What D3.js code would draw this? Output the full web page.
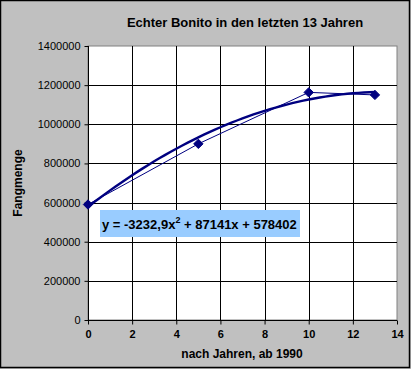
<!DOCTYPE html>
<html>
<head>
<meta charset="utf-8">
<script src="https://cdn.jsdelivr.net/npm/d3@7"></script>
<style>
  body { margin: 0; background: #c0c0c0; }
  .axis text { font-family: Arial, "Liberation Sans", sans-serif; fill: #000; }
  .axis path, .axis line { stroke: #000; }
</style>
</head>
<body>
<div id="chart"></div>
<script>
var years = [0, 5, 10, 13];
var catches = [590000, 900000, 1163000, 1150000];
var xTicks = [0, 2, 4, 6, 8, 10, 12, 14];
var yTicks = [0, 200000, 400000, 600000, 800000, 1000000, 1200000, 1400000];
var trendCoef = [578402, 87141, -3232.9]; // c + b*x + a*x^2

function init() {
    var width = 411;
    var height = 369;
    var left = 88, right = 397, top = 46, bottom = 320;

    var svg = d3.select("#chart")
                .append("svg")
                .attr("width", width)
                .attr("height", height);

    svg.append("rect")
       .attr("x", 0.5).attr("y", 0.5)
       .attr("width", width - 2).attr("height", height - 2)
       .attr("fill", "#c0c0c0")
       .attr("stroke", "#000")
       .attr("stroke-width", 1.5);

    var xScale = d3.scaleLinear().domain([0, 14]).range([left, right]);
    var yScale = d3.scaleLinear().domain([0, 1400000]).range([bottom, top]);

    svg.append("rect")
       .attr("x", left).attr("y", top)
       .attr("width", right - left).attr("height", bottom - top)
       .attr("fill", "#fff")
       .attr("stroke", "#808080");

    // grid
    svg.selectAll("line.vgrid")
       .data(xTicks.slice(1, -1))
       .enter().append("line")
       .attr("class", "vgrid")
       .attr("x1", function(d) { return Math.round(xScale(d)) + 0.5; })
       .attr("x2", function(d) { return Math.round(xScale(d)) + 0.5; })
       .attr("y1", top).attr("y2", bottom)
       .attr("stroke", "#000");
    svg.selectAll("line.hgrid")
       .data(yTicks.slice(1, -1))
       .enter().append("line")
       .attr("class", "hgrid")
       .attr("y1", function(d) { return Math.round(yScale(d)) + 0.5; })
       .attr("y2", function(d) { return Math.round(yScale(d)) + 0.5; })
       .attr("x1", left).attr("x2", right)
       .attr("stroke", "#000");

    var xAxis = d3.axisBottom(xScale).tickValues(xTicks).tickSize(4).tickFormat(d3.format("d"));
    var yAxis = d3.axisLeft(yScale).tickValues(yTicks).tickSize(4).tickFormat(d3.format("d"));

    var gx = svg.append("g")
       .attr("class", "axis")
       .attr("transform", "translate(0," + (bottom + 0.5) + ")")
       .call(xAxis);
    gx.select(".domain").attr("d", "M" + left + ",0H" + right);
    gx.selectAll("text").attr("font-size", "11px").attr("font-weight", "bold").attr("dy", "0.95em");

    var gy = svg.append("g")
       .attr("class", "axis")
       .attr("transform", "translate(" + (left + 0.5) + ",0)")
       .call(yAxis);
    gy.select(".domain").attr("d", "M0," + top + "V" + bottom);
    gy.selectAll("text").attr("font-size", "11px").attr("x", -8);

    // data line
    var line = d3.line()
        .x(function(d, i) { return xScale(years[i]); })
        .y(function(d) { return yScale(d); });
    svg.append("path")
       .datum(catches)
       .attr("d", line)
       .attr("fill", "none")
       .attr("stroke", "#000080")
       .attr("stroke-width", 1);

    // polynomial trend line
    var trendX = d3.range(0, 13.01, 0.25);
    var trend = d3.line()
        .x(function(d) { return xScale(d); })
        .y(function(d) { return yScale(trendCoef[0] + trendCoef[1] * d + trendCoef[2] * d * d); });
    svg.append("path")
       .datum(trendX)
       .attr("d", trend)
       .attr("fill", "none")
       .attr("stroke", "#000080")
       .attr("stroke-width", 2.4);

    svg.selectAll("path.pt")
       .data(catches)
       .enter().append("path")
       .attr("class", "pt")
       .attr("d", d3.symbol().type(d3.symbolDiamond2).size(56))
       .attr("transform", function(d, i) { return "translate(" + xScale(years[i]) + "," + yScale(d) + ")"; })
       .attr("fill", "#000080")
       .attr("stroke", "#000080");

    // equation label
    svg.append("rect")
       .attr("x", 100).attr("y", 210)
       .attr("width", 200).attr("height", 27)
       .attr("fill", "#99ccff");
    var eq = svg.append("text")
       .attr("x", 102).attr("y", 229)
       .attr("font-family", "Arial, 'Liberation Sans', sans-serif")
       .attr("font-size", "13px")
       .attr("font-weight", "bold");
    eq.append("tspan").text("y = -3232,9x");
    eq.append("tspan").attr("dy", -6).attr("font-size", "9px").text("2");
    eq.append("tspan").attr("dy", 6).text(" + 87141x + 578402");

    svg.append("text")
       .attr("x", 245).attr("y", 27)
       .attr("text-anchor", "middle")
       .attr("font-family", "Arial, 'Liberation Sans', sans-serif")
       .attr("font-size", "13px")
       .attr("font-weight", "bold")
       .text("Echter Bonito in den letzten 13 Jahren");

    svg.append("text")
       .attr("x", 242).attr("y", 358)
       .attr("text-anchor", "middle")
       .attr("font-family", "Arial, 'Liberation Sans', sans-serif")
       .attr("font-size", "12px")
       .attr("font-weight", "bold")
       .text("nach Jahren, ab 1990");

    svg.append("text")
       .attr("transform", "translate(22,183) rotate(-90)")
       .attr("text-anchor", "middle")
       .attr("font-family", "Arial, 'Liberation Sans', sans-serif")
       .attr("font-size", "12px")
       .attr("font-weight", "bold")
       .text("Fangmenge");
}
window.onload = init;
</script>
</body>
</html>
